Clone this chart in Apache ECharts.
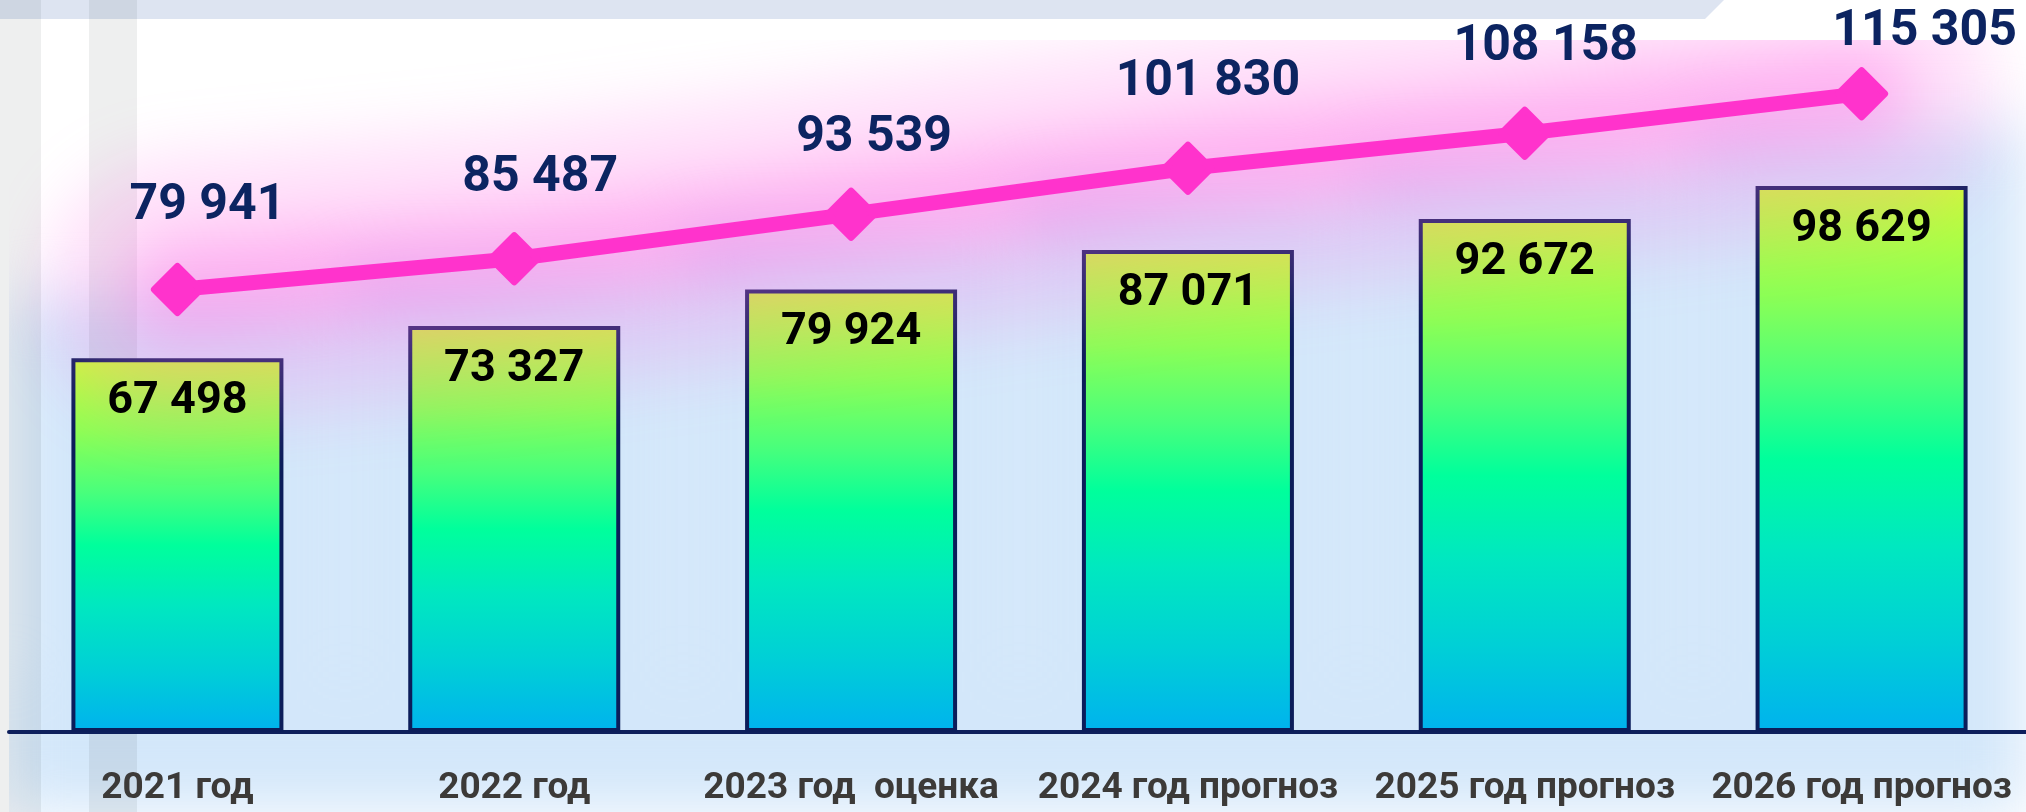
<!DOCTYPE html>
<html>
<head>
<meta charset="utf-8">
<script src="https://cdn.jsdelivr.net/npm/echarts@6/dist/echarts.min.js"></script>
<style>
  html, body { margin: 0; padding: 0; background: #fff; }
  #stage { position: relative; width: 2026px; height: 812px; overflow: hidden; background: #fff; }
  .layer { position: absolute; left: 0; top: 0; width: 2026px; height: 812px; }
  #band { position: absolute; left: 0; top: 0; width: 1724px; height: 19px; background: #dde4f1;
          clip-path: polygon(0 0, 1724px 0, 1705px 19px, 0 19px); }
  .stripe { position: absolute; top: 0; height: 812px; background: rgba(30, 45, 45, 0.075); }
  #hazeBlue { filter: blur(30px); clip-path: inset(40px 0 0 9px); }
  #hazePink { filter: blur(30px); clip-path: inset(40px 0 0 9px); }
</style>
</head>
<body>
<div id="stage">
  <div id="band"></div>
  <div id="hazeBlue" class="layer"></div>
  <div class="stripe" style="left:0;width:41px"></div>
  <div class="stripe" style="left:89px;width:48px"></div>
  <div id="base" class="layer"></div>
  <div id="hazePink" class="layer"></div>
  <div id="top" class="layer"></div>
</div>
<script>
// Years on the category axis
const categories = ['2021 год', '2022 год', '2023 год  оценка', '2024 год прогноз', '2025 год прогноз', '2026 год прогноз'];
// Column series
const barValues = [67498, 73327, 79924, 87071, 92672, 98629];
// Line series
const lineValues = [79941, 85487, 93539, 101830, 108158, 115305];

const FONT = "Roboto, 'Liberation Sans', sans-serif";
const fmt = v => String(v).replace(/\B(?=(\d{3})+(?!\d))/g, ' ');

// shared plotting frame, so every layer uses the same scales
const grid = { left: 9, width: 2021, top: 40, bottom: 80, outerBoundsMode: 'none', containLabel: false };
const yAxis = { type: 'value', min: 0, max: 125000, show: false, splitLine: { show: false } };
const hiddenX = { type: 'category', data: categories, show: false };

function make(id) {
  return echarts.init(document.getElementById(id), null, { renderer: 'canvas', width: 2026, height: 812 });
}

// soft blue glow behind the columns: same columns, widened and lifted a little
make('hazeBlue').setOption({
  animation: false,
  grid: Object.assign({}, grid, { top: -20, bottom: 140 }),
  yAxis, xAxis: hiddenX,
  graphic: [{ type: 'rect', shape: { x: 0, y: 672, width: 2026, height: 200 }, style: { fill: '#d3e7fa' }, z: 0 }],
  series: [{
    type: 'bar', data: barValues, barWidth: 334,
    itemStyle: { color: '#d3e7fa' }
  }]
});

// axis, category labels and gradient columns
make('base').setOption({
  animation: false,
  grid, yAxis,
  xAxis: {
    type: 'category', data: categories,
    axisLine: { lineStyle: { color: '#0d1f5c', width: 4 } },
    axisTick: { show: false },
    axisLabel: { interval: 0, margin: 38, color: '#3c3a38', fontFamily: FONT, fontWeight: 'bold', fontSize: 37 }
  },
  series: [{
    type: 'bar', data: barValues, barWidth: 212,
    itemStyle: {
      borderColor: '#0b1d5a', borderWidth: 4,
      color: new echarts.graphic.LinearGradient(0, 0, 0, 1, [
        { offset: 0, color: '#ccff33' },
        { offset: 0.2, color: '#8cff55' },
        { offset: 0.36, color: '#48ff7c' },
        { offset: 0.5, color: '#00ff9c' },
        { offset: 0.66, color: '#00e8c0' },
        { offset: 0.83, color: '#00d0d6' },
        { offset: 1, color: '#00b2ee' }
      ])
    }
  }]
});

// pink glow around the line: a tight bright core plus a wide faint halo
make('hazePink').setOption({
  animation: false,
  grid, yAxis, xAxis: hiddenX,
  series: [
    {
      type: 'line', data: lineValues, symbol: 'none',
      lineStyle: { color: 'rgba(255,110,228,0.2)', width: 270, cap: 'round', join: 'round' }
    },
    {
      type: 'line', data: lineValues, symbol: 'none',
      lineStyle: { color: 'rgba(255,95,225,0.36)', width: 100, cap: 'round', join: 'round' }
    }
  ]
});

// line, diamonds and all value labels
const lineLabelShift = [[30, -83], [26, -80], [23, -76], [20, -86], [21, -86], [63, -61]];
make('top').setOption({
  animation: false,
  grid, yAxis, xAxis: hiddenX,
  series: [
    {
      type: 'bar', data: barValues, barWidth: 212, silent: true,
      itemStyle: { color: 'rgba(0,0,0,0)' },
      label: {
        show: true, position: 'insideTop', distance: 21, formatter: p => fmt(p.value),
        color: '#000', fontFamily: FONT, fontWeight: 'bold', fontSize: 45
      }
    },
    {
      type: 'line',
      data: lineValues.map((v, i) => ({ value: v, label: { offset: lineLabelShift[i] } })),
      symbol: 'diamond', symbolSize: 46,
      lineStyle: { color: '#ff33cc', width: 15, join: 'round' },
      itemStyle: { color: '#ff33cc', borderColor: '#ff33cc', borderWidth: 7, borderJoin: 'round' },
      label: {
        show: true, position: 'inside', formatter: p => fmt(p.value),
        color: '#0c2461', fontFamily: FONT, fontWeight: 'bold', fontSize: 50
      },
      z: 5
    }
  ]
});
</script>
</body>
</html>
